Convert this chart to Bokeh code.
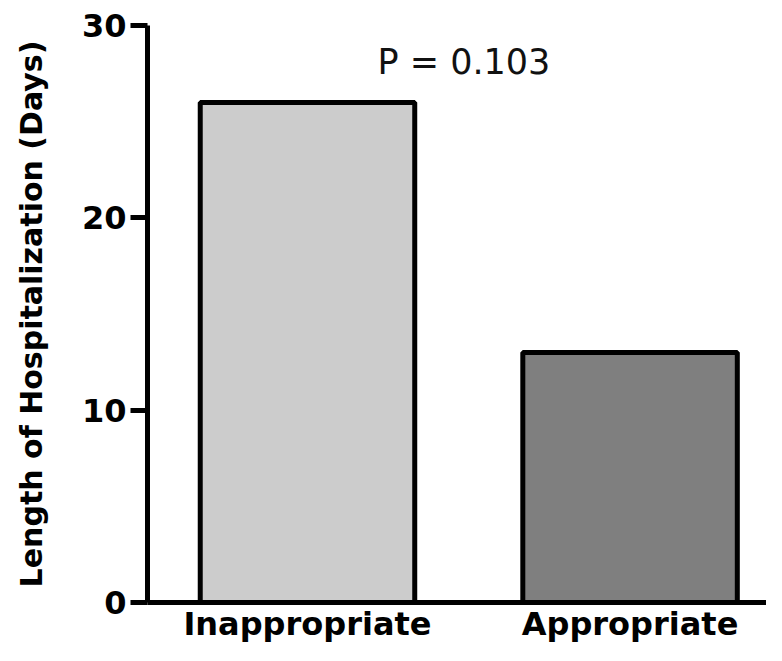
from bokeh.plotting import figure
from bokeh.models import ColumnDataSource, FixedTicker, Range1d
from bokeh.core.properties import value
from bokeh.embed import file_html
from bokeh.resources import INLINE

categories = ["Inappropriate", "Appropriate"]
days = [26, 13]
bar_colors = ["#cccccc", "#7f7f7f"]
y_ticks = [0, 10, 20, 30]
p_label = "P = 0.103"

xpos = [i + 1 for i in range(len(categories))]
src = ColumnDataSource(dict(x=xpos, top=days, color=bar_colors, name=categories))

p = figure(width=766, height=645, output_backend="svg", toolbar_location=None,
           x_range=Range1d(0.504, 2.423), y_range=Range1d(0, 30),
           min_border_top=25, min_border_right=0, min_border_left=147, min_border_bottom=0)
p.vbar(x="x", top="top", bottom=0, width=0.665, source=src, fill_color="color",
       line_color="black", line_width=5)

p.text(x=[1.485], y=[28.1], text=[p_label], text_font=value("DejaVu Sans"),
       text_font_size="35px", text_align="center", text_baseline="alphabetic",
       text_color="#111111")

p.grid.visible = False
p.outline_line_color = None
p.background_fill_color = "white"
p.border_fill_color = "white"

xa = p.xaxis[0]
xa.ticker = FixedTicker(ticks=xpos)
xa.major_label_overrides = {x: c for x, c in zip(xpos, categories)}
xa.axis_line_width = 5
xa.axis_line_color = "black"
xa.major_tick_line_color = None
xa.minor_tick_line_color = None
xa.major_tick_out = 0
xa.major_tick_in = 0
xa.major_label_standoff = 2
xa.major_label_text_font = "DejaVu Sans"
xa.major_label_text_font_style = "bold"
xa.major_label_text_font_size = "32px"
xa.major_label_text_color = "black"

ya = p.yaxis[0]
ya.ticker = FixedTicker(ticks=y_ticks)
ya.axis_line_width = 5
ya.axis_line_color = "black"
ya.major_tick_line_width = 5
ya.major_tick_line_color = "black"
ya.major_tick_out = 17
ya.major_tick_in = 0
ya.minor_tick_line_color = None
ya.major_label_standoff = 4
ya.major_label_text_font = "DejaVu Sans"
ya.major_label_text_font_style = "bold"
ya.major_label_text_font_size = "32px"
ya.major_label_text_color = "black"
ya.axis_label = "Length of Hospitalization (Days)"
ya.axis_label_text_font = "DejaVu Sans"
ya.axis_label_text_font_style = "bold"
ya.axis_label_text_font_size = "30px"
ya.axis_label_text_color = "black"
ya.axis_label_standoff = 30

open("out.html", "w").write(file_html(p, INLINE))
